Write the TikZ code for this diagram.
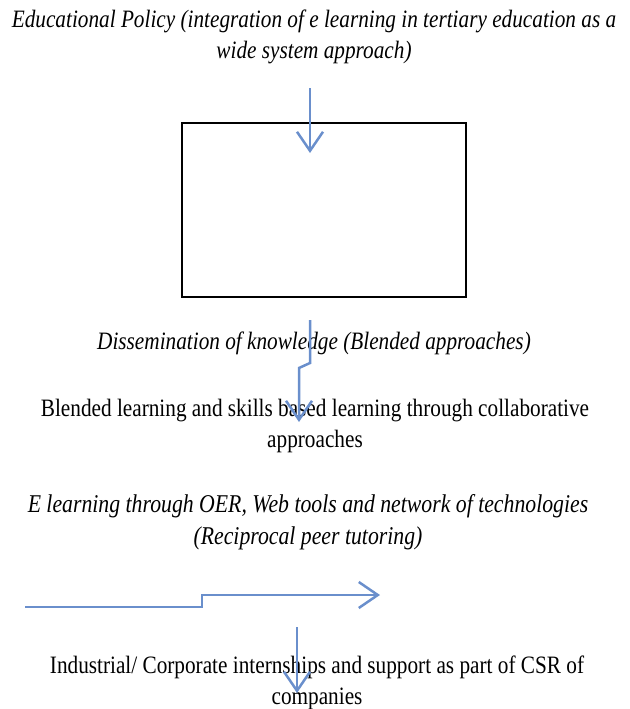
\documentclass[tikz,border=0pt]{standalone}
\usepackage{fontspec}
\setmainfont{Liberation Serif}[FakeStretch=0.85]
\usetikzlibrary{arrows.meta}
\definecolor{flowblue}{RGB}{106,143,204}
\tikzset{
  caption/.style={font=\fontsize{25}{31}\selectfont, align=center, inner sep=0pt},
  slanted/.style={caption, font=\fontsize{25}{31}\selectfont\itshape},
  flow/.style={draw=flowblue, line width=2.5pt, -{Straight Barb[length=19pt,width=26pt]}},
}
\begin{document}
\begin{tikzpicture}[x=1pt, y=-1pt]
  \useasboundingbox (0,0) rectangle (629,709);

  % texts
  \node[slanted] (policy) at (314,37) {Educational Policy (integration of e learning in tertiary education as a\\wide system approach)};
  \node[draw, line width=2.5pt, minimum width=284pt, minimum height=174pt, inner sep=0pt] (box) at (324,210) {};
  \node[slanted] (dissem) at (314,343) {Dissemination of knowledge (Blended approaches)};
  \node[caption] (blended) at (315,426) {Blended learning and skills based learning through collaborative\\approaches};
  \node[slanted, font=\fontsize{25.6}{32}\selectfont\itshape] (elearn) at (308,522) {E learning through OER, Web tools and network of technologies\\(Reciprocal peer tutoring)};
  \node[caption] (industry) at (317,683) {Industrial/ Corporate internships and support as part of CSR of\\companies};

  % arrow ends
  \coordinate (polstart) at (310,88);
  \coordinate (polend) at (310,153);
  \coordinate (disstart) at (310,320);
  \coordinate (disend) at (299,422);
  \coordinate (elstart) at (25,607);
  \coordinate (elend) at (380,595);
  \coordinate (indstart) at (297,627);
  \coordinate (indend) at (297,693);

  % arrows
  \draw[flow] (polstart) -- (polend);
  \draw[flow] (disstart) -- (310,363) -- (299,368) -- (disend);
  \draw[flow] (elstart) -- (202,607) -- (202,595) -- (elend);
  \draw[flow] (indstart) -- (indend);
\end{tikzpicture}
\end{document}
